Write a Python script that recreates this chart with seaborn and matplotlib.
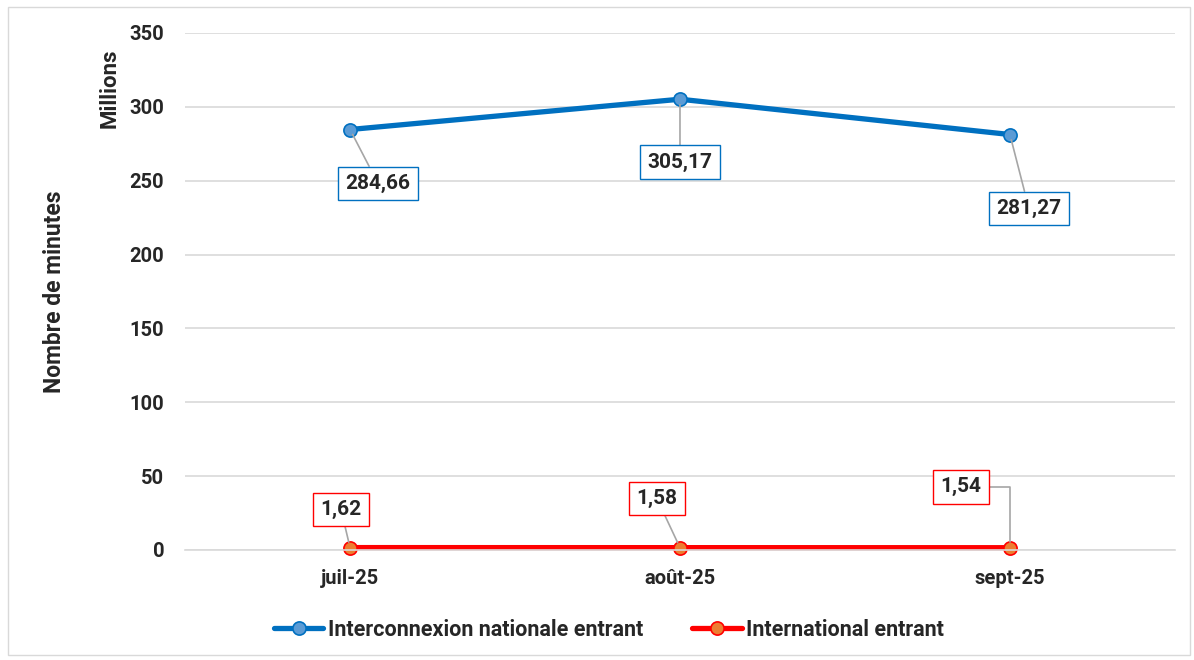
import pandas as pd
import numpy as np
import seaborn as sns
import matplotlib.pyplot as plt
from matplotlib.patches import Rectangle

sns.set_style("white")
plt.rcParams['font.family'] = ['Roboto', 'DejaVu Sans']
plt.rcParams['font.weight'] = 'bold'

months = ["juil-25", "août-25", "sept-25"]
nationale = [284.66, 305.17, 281.27]
international = [1.62, 1.58, 1.54]
lab_nat = ["284,66", "305,17", "281,27"]
lab_int = ["1,62", "1,58", "1,54"]

df = pd.DataFrame({"Mois": months, "nat": nationale, "intl": international})

blue = "#0070C0"
red = "#FF0000"

fig = plt.figure(figsize=(11.94, 6.6), dpi=100)
ax = fig.add_axes([0.155, 0.1667, 0.829, 0.7833])

sns.lineplot(data=df, x="Mois", y="nat", ax=ax, sort=False, color=blue, lw=3.8,
             marker="o", markersize=9.5, markerfacecolor="#5B9BD5",
             markeredgecolor=blue, markeredgewidth=1.2, clip_on=False,
             label="Interconnexion nationale entrant")
sns.lineplot(data=df, x="Mois", y="intl", ax=ax, sort=False, color=red, lw=3.8,
             marker="o", markersize=9.5, markerfacecolor="#ED7D31",
             markeredgecolor=red, markeredgewidth=1.2, clip_on=False,
             label="International entrant")

ax.set_xlim(-0.5, 2.5)
ax.set_ylim(0, 350)
ax.set_yticks(np.arange(0, 351, 50))
ax.yaxis.grid(True, color="#D9D9D9", lw=1.2)
ax.xaxis.grid(False)
for s in ["top", "right", "left"]:
    ax.spines[s].set_visible(False)
ax.spines["bottom"].set_color("#D9D9D9")
ax.spines["bottom"].set_linewidth(1.2)
ax.tick_params(axis="both", length=0, labelsize=14.5)
ax.tick_params(axis="y", pad=15)
ax.tick_params(axis="x", pad=14)
for t in ax.get_xticklabels() + ax.get_yticklabels():
    t.set_fontweight("bold")
ax.set_xlabel("")
ax.set_ylabel("")

# data labels (offsets in pixels)
nat_off = [(28, -54), (0, -63), (19, -74)]
int_off = [(-9, 38), (-23, 49), (-49, 61)]
for i in range(3):
    ax.annotate(lab_nat[i], (i, nationale[i]), xytext=nat_off[i], textcoords="offset pixels",
                ha="center", va="center", fontsize=15, fontweight="bold",
                bbox=dict(boxstyle="square,pad=0.35", fc="white", ec=blue, lw=1),
                arrowprops=dict(arrowstyle="-", color="#A6A6A6", lw=1.2, shrinkA=0, shrinkB=4))
for i in range(3):
    if i == 2:
        ap = dict(arrowstyle="-", color="#A6A6A6", lw=1.2, shrinkA=0, shrinkB=4,
                  connectionstyle="angle,angleA=0,angleB=90,rad=0", relpos=(1, 0.5))
    else:
        ap = dict(arrowstyle="-", color="#A6A6A6", lw=1.2, shrinkA=0, shrinkB=4)
    ax.annotate(lab_int[i], (i, international[i]), xytext=int_off[i], textcoords="offset pixels",
                ha="center", va="center", fontsize=15, fontweight="bold",
                bbox=dict(boxstyle="square,pad=0.35", fc="white", ec=red, lw=1),
                arrowprops=ap)

fig.text(55 / 1194, 1 - 292 / 660, "Nombre de minutes", rotation=90, ha="center", va="center",
         fontsize=16.5, fontweight="bold")
fig.text(110 / 1194, 1 - 88 / 660, "Millions", rotation=90, ha="center", va="center",
         fontsize=16, fontweight="bold")

ax.legend(loc="center", bbox_to_anchor=(0.51, 30 / 660),
          bbox_transform=fig.transFigure, ncol=2, frameon=False,
          handlelength=2.3, columnspacing=2.3, handletextpad=0.2,
          prop={"weight": "bold", "size": 15.5})

fig.add_artist(Rectangle((8 / 1194, 5 / 660), 1182 / 1194, 648 / 660, transform=fig.transFigure,
                         fill=False, ec="#D9D9D9", lw=1))

fig.savefig("out.png", dpi=100)
